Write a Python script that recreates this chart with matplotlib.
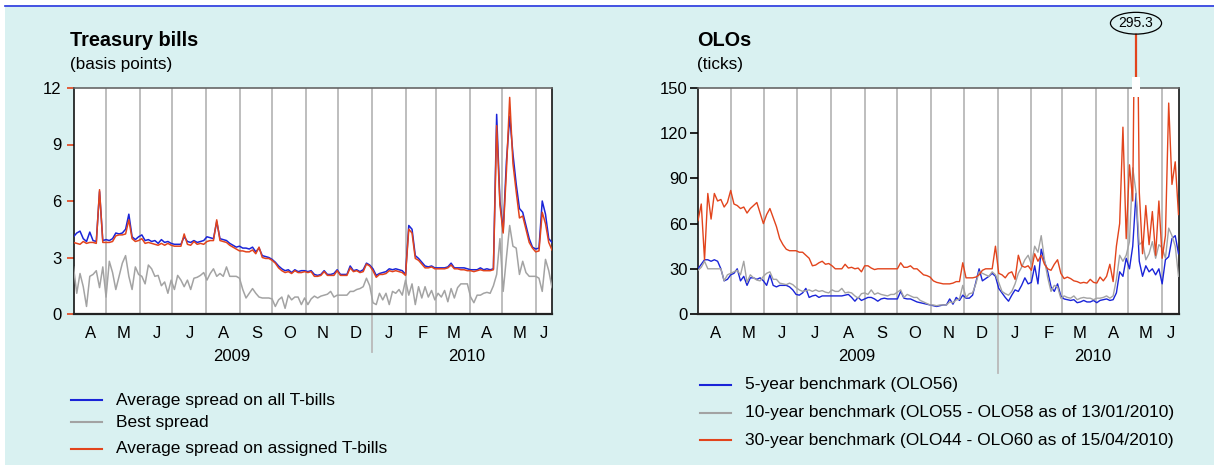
import matplotlib
matplotlib.use('Agg')
import matplotlib.pyplot as plt
import matplotlib.dates as mdates
import matplotlib.transforms as mtrans
import numpy as np
import pandas as pd
from matplotlib.patches import Rectangle
from matplotlib.lines import Line2D

plt.rcParams['font.family'] = ['Liberation Sans', 'DejaVu Sans']

# ---------------- data (one observation every 3 days from 1 April 2009) ----------------
start_date = '2009-04-01'

# Treasury bills (basis points)
tb_avg_all = [
    4.1, 4.3, 4.4, 4.0, 3.85, 4.35, 3.9, 3.85, 6.5, 3.9,
    3.95, 3.9, 4.0, 4.3, 4.25, 4.3, 4.5, 5.3, 4.1, 3.95,
    4.1, 4.2, 3.9, 3.95, 3.85, 3.9, 3.75, 3.95, 3.8, 3.85,
    3.75, 3.7, 3.7, 3.7, 4.1, 3.85, 3.8, 3.9, 3.8, 3.85,
    3.9, 4.1, 4.05, 4.0, 4.9, 4.0, 3.95, 3.9, 3.75, 3.65,
    3.55, 3.6, 3.5, 3.5, 3.45, 3.55, 3.3, 3.5, 3.1, 3.05,
    3.0, 2.9, 2.75, 2.55, 2.4, 2.3, 2.35, 2.2, 2.35, 2.25,
    2.3, 2.3, 2.25, 2.3, 2.1, 2.05, 2.1, 2.3, 2.1, 2.1,
    2.15, 2.35, 2.1, 2.1, 2.1, 2.55, 2.3, 2.35, 2.25, 2.35,
    2.7, 2.6, 2.4, 2.05, 2.15, 2.2, 2.25, 2.4, 2.35, 2.4,
    2.35, 2.3, 2.1, 4.7, 4.5, 3.1, 2.95, 2.75, 2.55, 2.5,
    2.55, 2.45, 2.45, 2.45, 2.45, 2.5, 2.7, 2.45, 2.45, 2.45,
    2.45, 2.4, 2.35, 2.35, 2.35, 2.45, 2.35, 2.4, 2.35, 2.4,
    10.6, 6.0, 4.4, 8.1, 10.5, 8.5, 6.9, 5.6, 5.4, 4.7,
    4.0, 3.55, 3.45, 3.5, 6.0, 5.3, 4.0, 3.8,
]
tb_best = [
    2.5, 1.1, 2.15, 1.45, 0.4, 2.0, 2.1, 2.3, 1.4, 2.5,
    0.9, 2.8, 2.2, 1.3, 2.0, 2.7, 3.1, 2.0, 1.3, 2.5,
    2.1, 2.0, 1.6, 2.6, 2.4, 2.0, 2.05, 1.5, 1.7, 1.1,
    1.8, 1.3, 2.05, 1.8, 1.45, 1.8, 1.3, 1.9, 1.95, 2.05,
    2.2, 1.8, 2.15, 2.4, 2.0, 2.15, 2.0, 2.5, 2.0, 2.0,
    2.0, 1.9, 1.3, 0.85, 1.1, 1.35, 1.1, 0.9, 0.85, 0.85,
    0.85, 0.8, 0.4, 0.75, 0.9, 0.3, 1.0, 0.75, 0.9, 0.9,
    0.5, 0.85, 0.5, 0.8, 0.95, 0.85, 0.95, 1.0, 1.05, 1.2,
    0.9, 1.0, 1.0, 1.0, 1.0, 1.2, 1.2, 1.3, 1.35, 1.45,
    1.9, 1.5, 0.6, 0.5, 1.1, 0.75, 1.1, 0.5, 1.2, 1.1,
    1.3, 1.0, 1.8, 1.0, 1.6, 0.5, 1.45, 0.85, 1.45, 0.9,
    1.25, 0.75, 1.1, 0.9, 1.25, 0.65, 1.35, 0.85, 1.4, 1.6,
    1.6, 1.6, 0.9, 0.6, 1.0, 1.0, 1.1, 1.15, 1.1, 1.5,
    2.1, 4.0, 1.2, 3.0, 4.7, 3.6, 3.5, 2.1, 2.8, 2.2,
    2.0, 2.0, 2.0, 1.9, 1.2, 2.9, 2.3, 1.4,
]
tb_avg_assigned = [
    3.8, 3.75, 3.7, 3.85, 3.75, 3.8, 3.8, 3.75, 6.6, 3.8,
    3.8, 3.8, 3.85, 4.15, 4.2, 4.2, 4.25, 5.0, 4.0, 3.85,
    3.9, 4.0, 3.75, 3.8, 3.75, 3.7, 3.65, 3.75, 3.65, 3.75,
    3.65, 3.6, 3.6, 3.6, 4.25, 3.7, 3.65, 3.85, 3.7, 3.75,
    3.7, 3.85, 3.9, 3.9, 5.0, 3.9, 3.85, 3.8, 3.65, 3.55,
    3.45, 3.35, 3.35, 3.3, 3.3, 3.4, 3.2, 3.55, 3.0, 2.95,
    2.95, 2.85, 2.7, 2.45, 2.3, 2.2, 2.25, 2.15, 2.3, 2.2,
    2.2, 2.25, 2.2, 2.25, 2.0, 2.0, 2.05, 2.25, 2.05, 2.05,
    2.05, 2.3, 2.05, 2.05, 2.05, 2.45, 2.25, 2.3, 2.2, 2.25,
    2.65, 2.55, 2.3, 1.95, 2.1, 2.1, 2.15, 2.3, 2.25, 2.3,
    2.25, 2.2, 2.05, 4.5, 4.3, 2.95, 2.85, 2.65, 2.45, 2.45,
    2.5, 2.4, 2.4, 2.4, 2.4, 2.45, 2.6, 2.4, 2.4, 2.35,
    2.35, 2.3, 2.3, 2.25, 2.3, 2.35, 2.3, 2.3, 2.3, 2.35,
    10.0, 5.8, 4.3, 7.6, 11.5, 8.0, 6.5, 5.1, 5.2, 4.5,
    3.8, 3.5, 3.3, 3.35, 5.4, 4.8, 3.8, 3.4,
]

# OLOs (ticks)
olo_5y = [
    30, 33, 36, 36, 35, 36, 35, 30, 22, 23,
    26, 27, 30, 22, 25, 19, 24, 24, 23, 24,
    22, 19, 26, 19, 18, 19, 19, 19, 18, 16,
    13, 12.5, 14, 17, 11, 12, 12.5, 11, 12, 12,
    12, 12, 12, 12, 12, 12.5, 13, 11, 8.5, 11,
    9, 10, 11, 11, 10, 8.5, 10, 10.5, 10, 10,
    10, 10, 15, 10.5, 10, 10, 9, 8, 7.5, 7,
    6.5, 6, 5.5, 5, 5.5, 6, 6, 10, 6.5, 11,
    9, 12.5, 10.5, 10.5, 12.5, 21, 30, 22, 23.5, 25,
    27, 25, 17, 14, 11, 8.5, 12.5, 16, 15, 19,
    24, 20, 21, 32, 20, 43, 35, 28, 18, 15,
    20, 12, 10, 9.5, 9, 9.5, 7.5, 8, 9, 8,
    8, 9, 7.5, 9, 9.5, 10, 9, 9.5, 14, 28,
    25, 37, 30, 45, 80, 35, 25, 32, 28, 30,
    26, 30, 20, 36, 38, 50, 52, 40,
]
olo_10y = [
    29, 31, 35, 30, 30, 30, 30, 30, 22, 26,
    27, 28, 29, 26, 35, 21, 26, 24, 22.5, 22,
    25, 27, 28, 23, 23, 20.5, 20, 19.5, 20.5, 19.5,
    17.5, 16, 15, 15.5, 16, 15, 16, 15, 15.5, 14.5,
    14, 16, 15, 15, 17, 14, 14.5, 14, 12, 10.5,
    13.5, 14, 13, 16, 13, 14, 13, 12.5, 12, 13,
    13, 14.5, 16, 11, 13, 12, 11, 11, 9, 8,
    7, 6, 6, 5.5, 6, 6, 6, 8, 7.5, 9.3,
    10, 19, 11, 13.5, 14, 20, 28, 27, 26, 25,
    28, 26, 21, 15, 13.5, 12.5, 15, 20, 27, 31,
    36, 39, 33, 45, 41, 52, 36, 24, 15, 19,
    18, 10.5, 12, 11, 10.5, 12, 9.5, 10.5, 11, 10.5,
    10.5, 9.5, 10.5, 10.5, 11, 12, 10.5, 12, 23, 39,
    35, 39, 48, 97, 81, 46, 48, 36, 40, 48,
    37, 46, 44, 37, 57, 52, 45, 25,
]
olo_30y = [
    62, 73, 36, 80, 63, 80, 75, 76, 71, 74,
    82, 73, 72, 70, 71, 67, 70, 72, 74, 67,
    60, 66, 70, 64, 58, 50, 46, 43, 42, 42,
    42, 41, 41, 39, 37, 32, 32.5, 34, 35, 33,
    33.5, 32, 30, 30, 30, 33, 30.5, 31, 30, 30.5,
    28, 32, 32, 30.5, 29.5, 30, 30, 30, 30, 30,
    30, 30, 34, 31, 31, 32, 30, 30, 28, 26,
    25.5, 24.5, 22, 21, 20.5, 20, 20, 20, 20.5, 21.5,
    21.5, 34, 24, 24, 24, 24.5, 26, 29, 30, 30,
    30, 45, 27, 26, 24, 27, 28, 23, 39, 32,
    31, 32, 29, 40, 35, 39, 33, 30, 29, 33,
    36, 27, 23.5, 24.5, 23.5, 22, 21.5, 20.5, 21, 20.5,
    23, 21, 20.5, 24.5, 22, 25, 33, 21.5, 45, 60,
    124, 50, 99, 75, 295.3, 81, 40, 72, 46, 68,
    39, 75, 37, 52, 140, 86, 101, 66,
]

month_letters = ['A', 'M', 'J', 'J', 'A', 'S', 'O', 'N', 'D', 'J', 'F', 'M', 'A', 'M', 'J']
year_labels = ['2009', '2010']
tb_yticks = [0, 3, 6, 9, 12]
olo_yticks = [0, 30, 60, 90, 120, 150]

tb_legend = ['Average spread on all T-bills', 'Best spread', 'Average spread on assigned T-bills']
olo_legend = ['5-year benchmark (OLO56)',
              '10-year benchmark (OLO55 - OLO58 as of 13/01/2010)',
              '30-year benchmark (OLO44 - OLO60 as of 15/04/2010)']

# ---------------- styling ----------------
BLUE = '#1a24d8'
GREY = '#a3a3a3'
RED = '#e2441c'
BG = '#d9f1f1'
GRID = '#b9b9b9'

W, H = 1214, 467
fig = plt.figure(figsize=(W / 100, H / 100), dpi=100)
fig.patch.set_facecolor('white')


def fx(x):
    return x / W


def fy(y):
    return 1 - y / H


fig.add_artist(Rectangle((fx(5), fy(465)), 1 - fx(5), fy(7) - fy(465),
                         transform=fig.transFigure, facecolor=BG,
                         edgecolor='none', zorder=-10))
fig.add_artist(Line2D([fx(5), 1], [fy(6), fy(6)], transform=fig.transFigure,
                      color='#2233dd', lw=1.2, zorder=-5))

dates = pd.date_range(start_date, periods=len(tb_avg_all), freq='3D')
x0 = pd.Timestamp('2009-04-01')
x1 = pd.Timestamp('2010-06-16')
month_starts = pd.date_range('2009-05-01', '2010-06-01', freq='MS')
label_dates = list(pd.date_range('2009-04-01', '2010-05-01', freq='MS') + pd.Timedelta(days=16))
label_dates.append(pd.Timestamp('2010-06-09'))
year_pos = [pd.Timestamp('2009-08-25'), pd.Timestamp('2010-03-29')]
jan1 = pd.Timestamp('2010-01-01')

axL = fig.add_axes([fx(73.5), fy(314), fx(552) - fx(73.5), fy(88) - fy(314)])
axR = fig.add_axes([fx(698), fy(314), fx(1178.5) - fx(698), fy(88) - fy(314)])


def setup(ax, yticks, tick_color, tick_len, pad, year_line_depth):
    ax.set_facecolor('white')
    ax.set_xlim(x0, x1)
    ax.set_ylim(yticks[0], yticks[-1])
    ax.set_yticks(yticks)
    ax.set_yticklabels([str(t) for t in yticks], fontsize=12)
    ax.tick_params(axis='y', length=tick_len, width=1.2, color=tick_color, pad=pad)
    ax.set_xticks([])
    for s in ['left', 'right']:
        ax.spines[s].set_color('black')
        ax.spines[s].set_linewidth(1.1)
    ax.spines['bottom'].set_color('#222222')
    ax.spines['bottom'].set_linewidth(1.6)
    ax.spines['top'].set_color('#666666')
    ax.spines['top'].set_linewidth(1.2)
    for m in month_starts:
        ax.axvline(m, color=GRID, lw=1.3, zorder=1)
    tr = mtrans.blended_transform_factory(ax.transData, ax.transAxes)
    ax.plot([jan1, jan1], [0, year_line_depth], transform=tr, color=GRID,
            lw=1.3, clip_on=False, zorder=1)
    for d, lab in zip(label_dates, month_letters):
        ax.text(d, -0.085, lab, transform=tr, ha='center', va='center', fontsize=12)
    for d, lab in zip(year_pos, year_labels):
        ax.text(d, -0.187, lab, transform=tr, ha='center', va='center', fontsize=12)


setup(axL, tb_yticks, RED, 5, 3.5, -0.17)
setup(axR, olo_yticks, 'black', 5.5, 1.8, -0.26)

# left lines
axL.plot(dates, tb_avg_all, color=BLUE, lw=1.1, zorder=3)
axL.plot(dates, tb_best, color=GREY, lw=1.1, zorder=3)
axL.plot(dates, tb_avg_assigned, color=RED, lw=1.1, zorder=4)

# right lines
axR.plot(dates, olo_5y, color=BLUE, lw=1.0, zorder=3)
axR.plot(dates, olo_10y, color=GREY, lw=1.0, zorder=3)
axR.plot(dates, olo_30y, color=RED, lw=1.0, zorder=4)

# off-scale peak annotation
pk = int(np.argmax(olo_30y))
pk_num = mdates.date2num(dates[pk])
axR.add_patch(Rectangle((pk_num - 4, 144), 8, 13, facecolor='white',
                        edgecolor='none', clip_on=False, zorder=6))
axR.annotate(f'{olo_30y[pk]:.1f}', xy=(pk_num, 157), xytext=(pk_num, 193),
             xycoords='data', textcoords='data', ha='center', va='center',
             fontsize=10, annotation_clip=False,
             bbox=dict(boxstyle='ellipse,pad=0.05', fc='none', ec='black', lw=0.9),
             arrowprops=dict(arrowstyle='-', color=RED, lw=1.6, shrinkA=0, shrinkB=0))

# titles
fig.text(fx(70), fy(40), 'Treasury bills', fontsize=14.3, fontweight='bold', ha='left', va='center')
fig.text(fx(70), fy(64), '(basis points)', fontsize=12.3, ha='left', va='center')
fig.text(fx(697), fy(40), 'OLOs', fontsize=14.3, fontweight='bold', ha='left', va='center')
fig.text(fx(697), fy(64), '(ticks)', fontsize=12.3, ha='left', va='center')

# legends (manual placement)
for ys, labs, cols, xl in [((400, 422, 449), tb_legend, (BLUE, GREY, RED), 71),
                            ((385, 413, 440), olo_legend, (BLUE, GREY, RED), 700)]:
    for y, lab, c in zip(ys, labs, cols):
        fig.add_artist(Line2D([fx(xl), fx(xl + 31)], [fy(y), fy(y)],
                              transform=fig.transFigure, color=c, lw=1.5))
        fig.text(fx(xl + 45), fy(y), lab, fontsize=12.5, ha='left', va='center')

fig.savefig('out.png', dpi=100, facecolor=fig.get_facecolor())
